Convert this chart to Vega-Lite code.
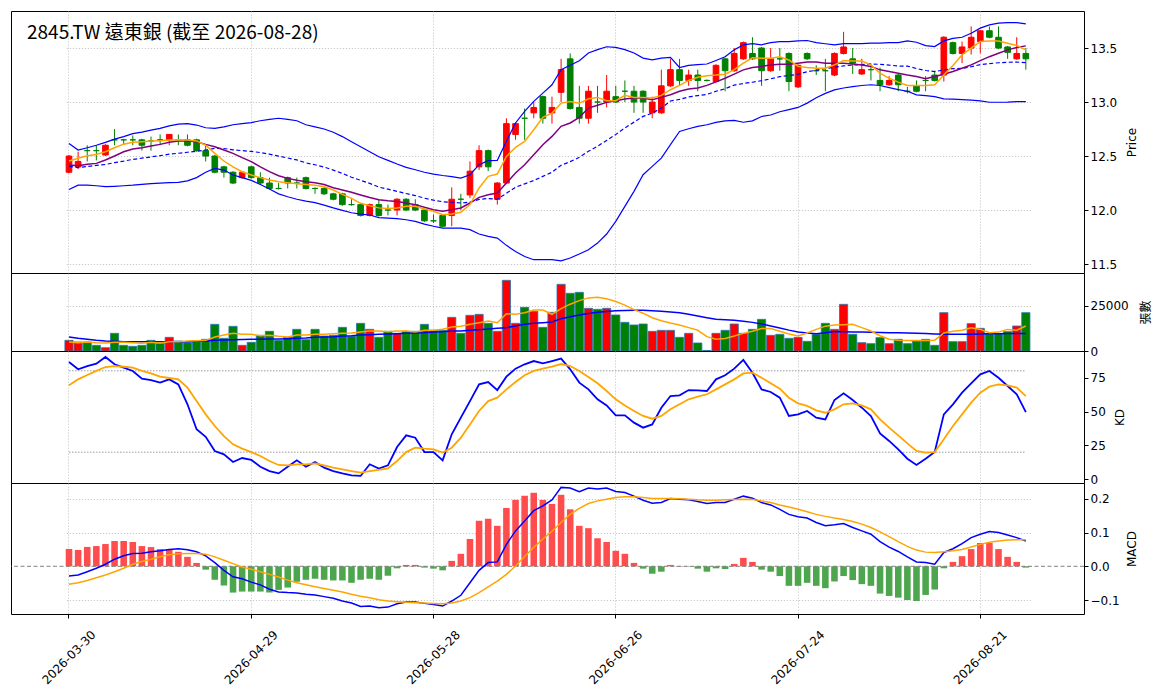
{
"$schema":"https://vega.github.io/schema/vega-lite/v6.json",
"background":"white",
"padding":{"left":10,"top":10,"right":5,"bottom":5},
"bounds":"flush",
"spacing":0,
"config":{
"view":{"stroke":"black","strokeWidth":1},
"axis":{"labelFont":"DejaVu Sans","titleFont":"DejaVu Sans, Noto Sans CJK TC","labelFontSize":12,"titleFontSize":12,"titleFontWeight":"normal","labelColor":"black","titleColor":"black","tickColor":"black","domain":false,"gridColor":"#bbbbbb","gridDash":[1.2,1.8],"gridWidth":0.8,"tickSize":4},
"line":{"clip":true},"bar":{"clip":true},"rule":{"clip":true}
},
"data":{"values":[
{"d":"2026-03-30","o":12.35,"h":12.51,"l":12.34,"c":12.50,"v":5926,"m5":12.454,"m10":12.417,"bu":12.617,"bm":12.404,"bl":12.19,"v5":5000,"v20":7778,"k":86.5,"dd":69.3,"dif":-0.029,"sig":-0.053,"hist":0.0515},
{"d":"2026-03-31","o":12.40,"h":12.54,"l":12.38,"c":12.45,"v":5000,"m5":12.48,"m10":12.41,"bu":12.556,"bm":12.393,"bl":12.23,"v5":4630,"v20":7037,"k":81.1,"dd":73.7,"dif":-0.026,"sig":-0.049,"hist":0.0485},
{"d":"2026-04-01","o":12.55,"h":12.60,"l":12.45,"c":12.55,"v":5000,"m5":12.503,"m10":12.423,"bu":12.577,"bm":12.404,"bl":12.23,"v5":5000,"v20":6482,"k":83.5,"dd":76.9,"dif":-0.016,"sig":-0.042,"hist":0.0574},
{"d":"2026-04-02","o":12.55,"h":12.60,"l":12.46,"c":12.55,"v":3148,"m5":12.515,"m10":12.432,"bu":12.60,"bm":12.413,"bl":12.225,"v5":4630,"v20":5926,"k":85.3,"dd":79.9,"dif":-0.006,"sig":-0.034,"hist":0.060},
{"d":"2026-04-07","o":12.51,"h":12.61,"l":12.50,"c":12.60,"v":1852,"m5":12.54,"m10":12.463,"bu":12.627,"bm":12.422,"bl":12.216,"v5":4445,"v20":5556,"k":90.2,"dd":82.8,"dif":0.006,"sig":-0.026,"hist":0.066},
{"d":"2026-04-08","o":12.65,"h":12.75,"l":12.60,"c":12.65,"v":9815,"m5":12.577,"m10":12.50,"bu":12.657,"bm":12.439,"bl":12.22,"v5":4815,"v20":5371,"k":84.8,"dd":83.5,"dif":0.021,"sig":-0.016,"hist":0.075},
{"d":"2026-04-09","o":12.65,"h":12.66,"l":12.61,"c":12.65,"v":3148,"m5":12.61,"m10":12.54,"bu":12.68,"bm":12.453,"bl":12.225,"v5":4815,"v20":5186,"k":82.3,"dd":83.0,"dif":0.031,"sig":-0.006,"hist":0.075},
{"d":"2026-04-10","o":12.65,"h":12.69,"l":12.60,"c":12.65,"v":2593,"m5":12.627,"m10":12.565,"bu":12.707,"bm":12.469,"bl":12.23,"v5":4630,"v20":5186,"k":79.9,"dd":82.3,"dif":0.038,"sig":0.006,"hist":0.072},
{"d":"2026-04-13","o":12.65,"h":12.66,"l":12.55,"c":12.60,"v":3148,"m5":12.633,"m10":12.577,"bu":12.722,"bm":12.48,"bl":12.237,"v5":4260,"v20":5186,"k":74.2,"dd":79.9,"dif":0.039,"sig":0.014,"hist":0.060},
{"d":"2026-04-14","o":12.64,"h":12.68,"l":12.55,"c":12.64,"v":5926,"m5":12.64,"m10":12.593,"bu":12.74,"bm":12.492,"bl":12.244,"v5":4815,"v20":5186,"k":73.2,"dd":78.1,"dif":0.043,"sig":0.021,"hist":0.057},
{"d":"2026-04-15","o":12.65,"h":12.70,"l":12.60,"c":12.65,"v":4259,"m5":12.642,"m10":12.608,"bu":12.756,"bm":12.503,"bl":12.25,"v5":4445,"v20":5186,"k":71.3,"dd":75.7,"dif":0.046,"sig":0.028,"hist":0.051},
{"d":"2026-04-16","o":12.65,"h":12.70,"l":12.60,"c":12.70,"v":7593,"m5":12.648,"m10":12.627,"bu":12.78,"bm":12.517,"bl":12.253,"v5":5186,"v20":5186,"k":73.7,"dd":74.7,"dif":0.050,"sig":0.034,"hist":0.050},
{"d":"2026-04-17","o":12.65,"h":12.70,"l":12.60,"c":12.65,"v":5556,"m5":12.651,"m10":12.64,"bu":12.796,"bm":12.526,"bl":12.256,"v5":5186,"v20":5186,"k":70.0,"dd":73.7,"dif":0.052,"sig":0.037,"hist":0.043},
{"d":"2026-04-20","o":12.65,"h":12.70,"l":12.59,"c":12.60,"v":4630,"m5":12.648,"m10":12.64,"bu":12.80,"bm":12.535,"bl":12.27,"v5":5556,"v20":5186,"k":55.3,"dd":67.6,"dif":0.049,"sig":0.038,"hist":0.028},
{"d":"2026-04-21","o":12.65,"h":12.66,"l":12.54,"c":12.55,"v":5556,"m5":12.64,"m10":12.633,"bu":12.787,"bm":12.544,"bl":12.30,"v5":5741,"v20":5371,"k":36.9,"dd":57.7,"dif":0.043,"sig":0.038,"hist":0.010},
{"d":"2026-04-22","o":12.55,"h":12.60,"l":12.45,"c":12.50,"v":6482,"m5":12.60,"m10":12.608,"bu":12.762,"bm":12.556,"bl":12.35,"v5":5926,"v20":5556,"k":31.4,"dd":47.9,"dif":0.031,"sig":0.036,"hist":-0.010},
{"d":"2026-04-23","o":12.50,"h":12.51,"l":12.34,"c":12.35,"v":14816,"m5":12.525,"m10":12.586,"bu":12.756,"bm":12.571,"bl":12.386,"v5":7778,"v20":5926,"k":20.9,"dd":39.3,"dif":0.011,"sig":0.028,"hist":-0.040},
{"d":"2026-04-24","o":12.40,"h":12.41,"l":12.30,"c":12.35,"v":7037,"m5":12.454,"m10":12.556,"bu":12.77,"bm":12.57,"bl":12.37,"v5":8890,"v20":6111,"k":18.4,"dd":31.9,"dif":-0.012,"sig":0.018,"hist":-0.057},
{"d":"2026-04-27","o":12.35,"h":12.36,"l":12.24,"c":12.25,"v":13704,"m5":12.40,"m10":12.525,"bu":12.79,"bm":12.557,"bl":12.324,"v5":9815,"v20":6296,"k":12.8,"dd":25.8,"dif":-0.031,"sig":0.008,"hist":-0.078},
{"d":"2026-04-28","o":12.30,"h":12.36,"l":12.29,"c":12.35,"v":3148,"m5":12.355,"m10":12.485,"bu":12.80,"bm":12.55,"bl":12.30,"v5":9260,"v20":6390,"k":15.7,"dd":22.6,"dif":-0.037,"sig":-0.002,"hist":-0.075},
{"d":"2026-04-29","o":12.40,"h":12.41,"l":12.29,"c":12.30,"v":4815,"m5":12.324,"m10":12.448,"bu":12.81,"bm":12.543,"bl":12.275,"v5":9260,"v20":6482,"k":14.3,"dd":20.1,"dif":-0.047,"sig":-0.009,"hist":-0.075},
{"d":"2026-04-30","o":12.30,"h":12.35,"l":12.24,"c":12.25,"v":8704,"m5":12.30,"m10":12.40,"bu":12.827,"bm":12.532,"bl":12.237,"v5":8519,"v20":6482,"k":9.3,"dd":17.2,"dif":-0.055,"sig":-0.016,"hist":-0.075},
{"d":"2026-05-04","o":12.25,"h":12.30,"l":12.19,"c":12.20,"v":10926,"m5":12.278,"m10":12.355,"bu":12.84,"bm":12.517,"bl":12.194,"v5":8704,"v20":6667,"k":6.1,"dd":13.5,"dif":-0.068,"sig":-0.024,"hist":-0.078},
{"d":"2026-05-05","o":12.20,"h":12.25,"l":12.19,"c":12.20,"v":5926,"m5":12.262,"m10":12.318,"bu":12.85,"bm":12.50,"bl":12.15,"v5":8149,"v20":6667,"k":4.4,"dd":10.6,"dif":-0.076,"sig":-0.032,"hist":-0.070},
{"d":"2026-05-06","o":12.30,"h":12.31,"l":12.20,"c":12.25,"v":7593,"m5":12.253,"m10":12.293,"bu":12.84,"bm":12.482,"bl":12.123,"v5":7778,"v20":6852,"k":9.3,"dd":10.3,"dif":-0.078,"sig":-0.041,"hist":-0.063},
{"d":"2026-05-07","o":12.25,"h":12.30,"l":12.20,"c":12.25,"v":12037,"m5":12.244,"m10":12.275,"bu":12.827,"bm":12.464,"bl":12.10,"v5":8890,"v20":7037,"k":14.0,"dd":11.1,"dif":-0.079,"sig":-0.049,"hist":-0.046},
{"d":"2026-05-08","o":12.30,"h":12.31,"l":12.19,"c":12.20,"v":6296,"m5":12.237,"m10":12.262,"bu":12.79,"bm":12.437,"bl":12.083,"v5":8890,"v20":7223,"k":9.3,"dd":11.1,"dif":-0.083,"sig":-0.055,"hist":-0.040},
{"d":"2026-05-11","o":12.20,"h":12.21,"l":12.15,"c":12.20,"v":12037,"m5":12.23,"m10":12.253,"bu":12.77,"bm":12.419,"bl":12.068,"v5":9260,"v20":7593,"k":12.8,"dd":11.8,"dif":-0.085,"sig":-0.061,"hist":-0.037},
{"d":"2026-05-12","o":12.20,"h":12.21,"l":12.14,"c":12.15,"v":8333,"m5":12.216,"m10":12.237,"bu":12.75,"bm":12.398,"bl":12.046,"v5":9260,"v20":7778,"k":8.6,"dd":10.3,"dif":-0.090,"sig":-0.066,"hist":-0.040},
{"d":"2026-05-13","o":12.15,"h":12.16,"l":12.09,"c":12.10,"v":8704,"m5":12.185,"m10":12.207,"bu":12.72,"bm":12.37,"bl":12.02,"v5":9630,"v20":7963,"k":6.1,"dd":8.6,"dif":-0.095,"sig":-0.071,"hist":-0.042},
{"d":"2026-05-14","o":12.15,"h":12.16,"l":12.04,"c":12.05,"v":13148,"m5":12.145,"m10":12.185,"bu":12.68,"bm":12.339,"bl":11.997,"v5":9815,"v20":8334,"k":4.4,"dd":7.4,"dif":-0.103,"sig":-0.076,"hist":-0.042},
{"d":"2026-05-15","o":12.05,"h":12.10,"l":12.04,"c":12.05,"v":8148,"m5":12.108,"m10":12.164,"bu":12.633,"bm":12.304,"bl":11.975,"v5":10000,"v20":8519,"k":2.9,"dd":6.1,"dif":-0.109,"sig":-0.083,"hist":-0.049},
{"d":"2026-05-18","o":12.05,"h":12.06,"l":11.94,"c":11.95,"v":15371,"m5":12.062,"m10":12.14,"bu":12.586,"bm":12.275,"bl":11.963,"v5":10556,"v20":8890,"k":2.5,"dd":4.9,"dif":-0.119,"sig":-0.089,"hist":-0.040},
{"d":"2026-05-19","o":11.95,"h":12.06,"l":11.94,"c":12.05,"v":12037,"m5":12.04,"m10":12.117,"bu":12.54,"bm":12.247,"bl":11.954,"v5":11112,"v20":9075,"k":11.1,"dd":6.1,"dif":-0.118,"sig":-0.093,"hist":-0.037},
{"d":"2026-05-20","o":12.05,"h":12.10,"l":11.94,"c":11.95,"v":7593,"m5":12.02,"m10":12.096,"bu":12.494,"bm":12.212,"bl":11.93,"v5":11112,"v20":9260,"k":7.9,"dd":6.9,"dif":-0.123,"sig":-0.099,"hist":-0.040},
{"d":"2026-05-21","o":12.00,"h":12.05,"l":11.95,"c":12.00,"v":10926,"m5":12.015,"m10":12.085,"bu":12.46,"bm":12.193,"bl":11.925,"v5":10741,"v20":9445,"k":10.3,"dd":8.1,"dif":-0.121,"sig":-0.103,"hist":-0.028},
{"d":"2026-05-22","o":12.00,"h":12.11,"l":11.95,"c":12.10,"v":9815,"m5":12.019,"m10":12.08,"bu":12.426,"bm":12.173,"bl":11.92,"v5":11112,"v20":9630,"k":23.8,"dd":13.5,"dif":-0.111,"sig":-0.105,"hist":-0.006},
{"d":"2026-05-25","o":12.10,"h":12.11,"l":11.99,"c":12.00,"v":10926,"m5":12.034,"m10":12.065,"bu":12.395,"bm":12.153,"bl":11.91,"v5":11112,"v20":9815,"k":32.4,"dd":20.1,"dif":-0.106,"sig":-0.107,"hist":0.004},
{"d":"2026-05-26","o":12.05,"h":12.10,"l":11.99,"c":12.00,"v":10926,"m5":12.034,"m10":12.05,"bu":12.373,"bm":12.134,"bl":11.895,"v5":10556,"v20":10000,"k":30.7,"dd":23.3,"dif":-0.106,"sig":-0.108,"hist":0.004},
{"d":"2026-05-27","o":12.00,"h":12.01,"l":11.89,"c":11.90,"v":14816,"m5":12.01,"m10":12.025,"bu":12.35,"bm":12.11,"bl":11.87,"v5":11482,"v20":10186,"k":20.1,"dd":22.6,"dif":-0.110,"sig":-0.109,"hist":-0.004},
{"d":"2026-05-28","o":11.90,"h":11.96,"l":11.88,"c":11.90,"v":11482,"m5":11.988,"m10":12.003,"bu":12.333,"bm":12.092,"bl":11.85,"v5":11482,"v20":10556,"k":20.1,"dd":22.1,"dif":-0.113,"sig":-0.110,"hist":-0.007},
{"d":"2026-05-29","o":11.95,"h":11.96,"l":11.84,"c":11.85,"v":11482,"m5":11.957,"m10":11.988,"bu":12.32,"bm":12.077,"bl":11.833,"v5":12037,"v20":10741,"k":14.0,"dd":19.7,"dif":-0.118,"sig":-0.111,"hist":-0.012},
{"d":"2026-06-01","o":11.95,"h":12.21,"l":11.85,"c":12.10,"v":18705,"m5":11.963,"m10":12.003,"bu":12.31,"bm":12.072,"bl":11.833,"v5":13334,"v20":11112,"k":33.2,"dd":23.3,"dif":-0.103,"sig":-0.109,"hist":0.016},
{"d":"2026-06-02","o":12.10,"h":12.15,"l":12.00,"c":12.10,"v":9815,"m5":11.98,"m10":12.019,"bu":12.296,"bm":12.065,"bl":11.833,"v5":13704,"v20":11112,"k":45.5,"dd":30.7,"dif":-0.086,"sig":-0.103,"hist":0.037},
{"d":"2026-06-03","o":12.14,"h":12.45,"l":12.11,"c":12.36,"v":19816,"m5":12.05,"m10":12.065,"bu":12.327,"bm":12.073,"bl":11.818,"v5":14816,"v20":11482,"k":57.7,"dd":40.5,"dif":-0.049,"sig":-0.093,"hist":0.081},
{"d":"2026-06-04","o":12.40,"h":12.60,"l":12.37,"c":12.55,"v":20372,"m5":12.204,"m10":12.117,"bu":12.42,"bm":12.099,"bl":11.778,"v5":15742,"v20":11853,"k":70.0,"dd":50.4,"dif":-0.012,"sig":-0.078,"hist":0.135},
{"d":"2026-06-05","o":12.55,"h":12.56,"l":12.36,"c":12.40,"v":15371,"m5":12.312,"m10":12.142,"bu":12.457,"bm":12.107,"bl":11.756,"v5":16668,"v20":12223,"k":71.7,"dd":57.7,"dif":0.011,"sig":-0.061,"hist":0.141},
{"d":"2026-06-08","o":12.10,"h":12.26,"l":12.05,"c":12.25,"v":10926,"m5":12.333,"m10":12.157,"bu":12.46,"bm":12.10,"bl":11.74,"v5":15742,"v20":12594,"k":65.8,"dd":60.2,"dif":0.013,"sig":-0.044,"hist":0.120},
{"d":"2026-06-09","o":12.25,"h":12.85,"l":12.24,"c":12.80,"v":39262,"m5":12.497,"m10":12.25,"bu":12.636,"bm":12.155,"bl":11.673,"v5":20742,"v20":12964,"k":75.7,"dd":66.3,"dif":0.065,"sig":-0.024,"hist":0.173},
{"d":"2026-06-10","o":12.70,"h":12.81,"l":12.65,"c":12.80,"v":15371,"m5":12.58,"m10":12.343,"bu":12.806,"bm":12.212,"bl":11.617,"v5":20372,"v20":13890,"k":81.6,"dd":71.7,"dif":0.105,"sig":0.001,"hist":0.197},
{"d":"2026-06-11","o":12.85,"h":12.94,"l":12.65,"c":12.85,"v":24261,"m5":12.636,"m10":12.42,"bu":12.914,"bm":12.242,"bl":11.57,"v5":21298,"v20":14816,"k":84.8,"dd":76.7,"dif":0.134,"sig":0.029,"hist":0.209},
{"d":"2026-06-12","o":12.90,"h":13.00,"l":12.85,"c":12.95,"v":22039,"m5":12.744,"m10":12.512,"bu":13.006,"bm":12.273,"bl":11.54,"v5":22780,"v20":15371,"k":87.2,"dd":79.9,"dif":0.165,"sig":0.056,"hist":0.218},
{"d":"2026-06-15","o":13.05,"h":13.06,"l":12.80,"c":12.85,"v":13148,"m5":12.858,"m10":12.605,"bu":13.083,"bm":12.312,"bl":11.54,"v5":22780,"v20":15742,"k":85.5,"dd":81.6,"dif":0.179,"sig":0.081,"hist":0.197},
{"d":"2026-06-16","o":12.90,"h":13.05,"l":12.80,"c":12.95,"v":21483,"m5":12.898,"m10":12.682,"bu":13.16,"bm":12.35,"bl":11.54,"v5":20400,"v20":16112,"k":87.2,"dd":83.0,"dif":0.197,"sig":0.104,"hist":0.185},
{"d":"2026-06-17","o":13.09,"h":13.40,"l":13.00,"c":13.30,"v":37040,"m5":12.99,"m10":12.775,"bu":13.30,"bm":12.415,"bl":11.53,"v5":23500,"v20":17964,"k":89.0,"dd":85.0,"dif":0.234,"sig":0.130,"hist":0.212},
{"d":"2026-06-18","o":13.40,"h":13.45,"l":12.93,"c":12.94,"v":32040,"m5":13.006,"m10":12.806,"bu":13.34,"bm":12.448,"bl":11.556,"v5":26000,"v20":19000,"k":81.1,"dd":83.5,"dif":0.232,"sig":0.154,"hist":0.169},
{"d":"2026-06-22","o":12.95,"h":13.15,"l":12.80,"c":12.85,"v":32595,"m5":12.99,"m10":12.858,"bu":13.383,"bm":12.488,"bl":11.593,"v5":28000,"v20":20002,"k":71.3,"dd":79.9,"dif":0.221,"sig":0.172,"hist":0.120},
{"d":"2026-06-23","o":12.85,"h":13.15,"l":12.80,"c":13.10,"v":23706,"m5":13.03,"m10":12.944,"bu":13.454,"bm":12.544,"bl":11.633,"v5":29500,"v20":20800,"k":66.3,"dd":75.4,"dif":0.232,"sig":0.186,"hist":0.113},
{"d":"2026-06-24","o":13.00,"h":13.15,"l":12.90,"c":13.00,"v":23150,"m5":13.043,"m10":12.97,"bu":13.485,"bm":12.59,"bl":11.694,"v5":29800,"v20":21500,"k":59.0,"dd":70.8,"dif":0.229,"sig":0.194,"hist":0.083},
{"d":"2026-06-25","o":13.00,"h":13.25,"l":12.95,"c":13.10,"v":23706,"m5":13.012,"m10":12.997,"bu":13.512,"bm":12.645,"bl":11.778,"v5":29000,"v20":22000,"k":54.5,"dd":65.1,"dif":0.232,"sig":0.199,"hist":0.072},
{"d":"2026-06-26","o":13.05,"h":13.15,"l":12.99,"c":13.00,"v":20002,"m5":13.012,"m10":13.012,"bu":13.506,"bm":12.70,"bl":11.895,"v5":27500,"v20":22400,"k":47.2,"dd":59.0,"dif":0.222,"sig":0.204,"hist":0.046},
{"d":"2026-06-29","o":13.10,"h":13.20,"l":13.00,"c":13.10,"v":15927,"m5":13.062,"m10":13.028,"bu":13.485,"bm":12.76,"bl":12.034,"v5":25500,"v20":22500,"k":47.2,"dd":54.5,"dif":0.219,"sig":0.206,"hist":0.037},
{"d":"2026-06-30","o":13.10,"h":13.15,"l":12.90,"c":13.00,"v":14446,"m5":13.043,"m10":13.037,"bu":13.454,"bm":12.814,"bl":12.173,"v5":23000,"v20":22600,"k":41.8,"dd":50.4,"dif":0.208,"sig":0.206,"hist":0.010},
{"d":"2026-07-01","o":13.10,"h":13.11,"l":12.90,"c":13.00,"v":15001,"m5":13.043,"m10":13.037,"bu":13.407,"bm":12.867,"bl":12.327,"v5":21000,"v20":22594,"k":38.1,"dd":46.7,"dif":0.196,"sig":0.204,"hist":-0.007},
{"d":"2026-07-02","o":12.90,"h":13.05,"l":12.85,"c":13.00,"v":10926,"m5":13.037,"m10":13.022,"bu":13.39,"bm":12.897,"bl":12.404,"v5":18500,"v20":22400,"k":40.5,"dd":44.7,"dif":0.187,"sig":0.201,"hist":-0.022},
{"d":"2026-07-03","o":12.90,"h":13.30,"l":12.89,"c":13.15,"v":11482,"m5":13.062,"m10":13.043,"bu":13.407,"bm":12.944,"bl":12.48,"v5":16800,"v20":22100,"k":52.8,"dd":46.7,"dif":0.189,"sig":0.201,"hist":-0.016},
{"d":"2026-07-06","o":13.15,"h":13.40,"l":13.14,"c":13.30,"v":11482,"m5":13.114,"m10":13.068,"bu":13.414,"bm":13.01,"bl":12.605,"v5":15500,"v20":21700,"k":61.4,"dd":51.6,"dif":0.201,"sig":0.201,"hist":0.004},
{"d":"2026-07-07","o":13.30,"h":13.40,"l":13.15,"c":13.20,"v":7593,"m5":13.154,"m10":13.10,"bu":13.32,"bm":13.024,"bl":12.728,"v5":14400,"v20":21298,"k":61.9,"dd":55.3,"dif":0.199,"sig":0.200,"hist":0.001},
{"d":"2026-07-08","o":13.20,"h":13.30,"l":13.15,"c":13.25,"v":9815,"m5":13.20,"m10":13.12,"bu":13.34,"bm":13.047,"bl":12.753,"v5":13000,"v20":20400,"k":65.8,"dd":59.0,"dif":0.197,"sig":0.199,"hist":-0.001},
{"d":"2026-07-09","o":13.25,"h":13.30,"l":13.10,"c":13.20,"v":4445,"m5":13.23,"m10":13.13,"bu":13.346,"bm":13.06,"bl":12.775,"v5":11500,"v20":19446,"k":65.6,"dd":60.9,"dif":0.192,"sig":0.197,"hist":-0.007},
{"d":"2026-07-10","o":13.20,"h":13.21,"l":13.19,"c":13.20,"v":300,"m5":13.244,"m10":13.154,"bu":13.352,"bm":13.071,"bl":12.79,"v5":8000,"v20":18500,"k":65.1,"dd":62.7,"dif":0.186,"sig":0.196,"hist":-0.016},
{"d":"2026-07-13","o":13.19,"h":13.35,"l":13.18,"c":13.34,"v":9815,"m5":13.25,"m10":13.187,"bu":13.385,"bm":13.10,"bl":12.812,"v5":6500,"v20":17594,"k":73.7,"dd":66.3,"dif":0.189,"sig":0.196,"hist":-0.006},
{"d":"2026-07-14","o":13.40,"h":13.41,"l":13.10,"c":13.29,"v":11482,"m5":13.258,"m10":13.22,"bu":13.42,"bm":13.123,"bl":12.826,"v5":7000,"v20":17300,"k":76.7,"dd":70.0,"dif":0.189,"sig":0.197,"hist":-0.008},
{"d":"2026-07-15","o":13.29,"h":13.50,"l":13.28,"c":13.45,"v":15001,"m5":13.30,"m10":13.258,"bu":13.483,"bm":13.157,"bl":12.83,"v5":8300,"v20":17038,"k":81.6,"dd":73.7,"dif":0.199,"sig":0.198,"hist":0.007},
{"d":"2026-07-16","o":13.40,"h":13.56,"l":13.39,"c":13.55,"v":9815,"m5":13.36,"m10":13.298,"bu":13.53,"bm":13.172,"bl":12.813,"v5":9800,"v20":16500,"k":88.0,"dd":78.1,"dif":0.208,"sig":0.199,"hist":0.025},
{"d":"2026-07-17","o":13.45,"h":13.60,"l":13.39,"c":13.40,"v":12037,"m5":13.41,"m10":13.32,"bu":13.54,"bm":13.183,"bl":12.826,"v5":11000,"v20":15900,"k":78.6,"dd":78.6,"dif":0.202,"sig":0.198,"hist":0.013},
{"d":"2026-07-20","o":13.50,"h":13.51,"l":13.15,"c":13.29,"v":17594,"m5":13.406,"m10":13.33,"bu":13.53,"bm":13.198,"bl":12.866,"v5":12500,"v20":15000,"k":66.3,"dd":74.9,"dif":0.189,"sig":0.194,"hist":-0.010},
{"d":"2026-07-21","o":13.29,"h":13.50,"l":13.28,"c":13.40,"v":8704,"m5":13.406,"m10":13.344,"bu":13.55,"bm":13.215,"bl":12.88,"v5":12500,"v20":13900,"k":64.4,"dd":70.8,"dif":0.182,"sig":0.189,"hist":-0.016},
{"d":"2026-07-22","o":13.40,"h":13.50,"l":13.29,"c":13.40,"v":9260,"m5":13.42,"m10":13.35,"bu":13.56,"bm":13.235,"bl":12.91,"v5":11000,"v20":12800,"k":60.2,"dd":66.8,"dif":0.169,"sig":0.182,"hist":-0.029},
{"d":"2026-07-23","o":13.45,"h":13.46,"l":13.10,"c":13.19,"v":7037,"m5":13.39,"m10":13.35,"bu":13.56,"bm":13.245,"bl":12.93,"v5":9500,"v20":11600,"k":46.7,"dd":60.2,"dif":0.154,"sig":0.176,"hist":-0.058},
{"d":"2026-07-24","o":13.14,"h":13.35,"l":13.13,"c":13.34,"v":7593,"m5":13.33,"m10":13.36,"bu":13.566,"bm":13.258,"bl":12.95,"v5":8300,"v20":10556,"k":47.9,"dd":56.0,"dif":0.147,"sig":0.169,"hist":-0.058},
{"d":"2026-07-27","o":13.45,"h":13.46,"l":13.39,"c":13.40,"v":5371,"m5":13.32,"m10":13.37,"bu":13.57,"bm":13.28,"bl":12.99,"v5":10000,"v20":10000,"k":50.4,"dd":54.1,"dif":0.143,"sig":0.162,"hist":-0.049},
{"d":"2026-07-28","o":13.29,"h":13.34,"l":13.25,"c":13.29,"v":9260,"m5":13.313,"m10":13.37,"bu":13.55,"bm":13.295,"bl":13.04,"v5":12000,"v20":9630,"k":45.5,"dd":50.9,"dif":0.130,"sig":0.154,"hist":-0.058},
{"d":"2026-07-29","o":13.29,"h":13.40,"l":13.10,"c":13.29,"v":15371,"m5":13.313,"m10":13.36,"bu":13.54,"bm":13.31,"bl":13.08,"v5":13800,"v20":10200,"k":44.2,"dd":49.1,"dif":0.120,"sig":0.148,"hist":-0.065},
{"d":"2026-07-30","o":13.25,"h":13.46,"l":13.24,"c":13.45,"v":12037,"m5":13.344,"m10":13.36,"bu":13.53,"bm":13.322,"bl":13.113,"v5":14500,"v20":10800,"k":58.5,"dd":51.6,"dif":0.123,"sig":0.143,"hist":-0.045},
{"d":"2026-07-31","o":13.45,"h":13.65,"l":13.44,"c":13.51,"v":25928,"m5":13.384,"m10":13.36,"bu":13.54,"bm":13.335,"bl":13.13,"v5":14600,"v20":10742,"k":63.4,"dd":55.3,"dif":0.127,"sig":0.139,"hist":-0.029},
{"d":"2026-08-03","o":13.40,"h":13.50,"l":13.26,"c":13.36,"v":9260,"m5":13.38,"m10":13.353,"bu":13.54,"bm":13.342,"bl":13.143,"v5":14800,"v20":10600,"k":58.5,"dd":56.0,"dif":0.115,"sig":0.133,"hist":-0.041},
{"d":"2026-08-04","o":13.26,"h":13.40,"l":13.25,"c":13.30,"v":4630,"m5":13.38,"m10":13.344,"bu":13.54,"bm":13.347,"bl":13.153,"v5":13000,"v20":10500,"k":52.8,"dd":54.5,"dif":0.105,"sig":0.125,"hist":-0.053},
{"d":"2026-08-05","o":13.30,"h":13.35,"l":13.20,"c":13.30,"v":4074,"m5":13.344,"m10":13.33,"bu":13.545,"bm":13.353,"bl":13.16,"v5":11100,"v20":10400,"k":46.7,"dd":51.6,"dif":0.095,"sig":0.115,"hist":-0.058},
{"d":"2026-08-06","o":13.20,"h":13.32,"l":13.10,"c":13.16,"v":7408,"m5":13.267,"m10":13.298,"bu":13.545,"bm":13.349,"bl":13.153,"v5":8500,"v20":10300,"k":33.9,"dd":44.2,"dif":0.073,"sig":0.102,"hist":-0.081},
{"d":"2026-08-07","o":13.16,"h":13.24,"l":13.15,"c":13.20,"v":4074,"m5":13.22,"m10":13.283,"bu":13.55,"bm":13.342,"bl":13.134,"v5":6500,"v20":10200,"k":28.3,"dd":38.1,"dif":0.057,"sig":0.088,"hist":-0.088},
{"d":"2026-08-10","o":13.25,"h":13.26,"l":13.10,"c":13.16,"v":6482,"m5":13.184,"m10":13.267,"bu":13.55,"bm":13.333,"bl":13.115,"v5":6000,"v20":10100,"k":22.1,"dd":32.4,"dif":0.044,"sig":0.073,"hist":-0.093},
{"d":"2026-08-11","o":13.10,"h":13.14,"l":13.08,"c":13.10,"v":4074,"m5":13.153,"m10":13.25,"bu":13.566,"bm":13.333,"bl":13.10,"v5":5900,"v20":10000,"k":15.2,"dd":26.5,"dif":0.028,"sig":0.059,"hist":-0.100},
{"d":"2026-08-12","o":13.15,"h":13.20,"l":13.09,"c":13.10,"v":5556,"m5":13.153,"m10":13.236,"bu":13.554,"bm":13.31,"bl":13.066,"v5":5900,"v20":9900,"k":10.6,"dd":20.9,"dif":0.013,"sig":0.048,"hist":-0.103},
{"d":"2026-08-13","o":13.20,"h":13.24,"l":13.10,"c":13.20,"v":6482,"m5":13.153,"m10":13.215,"bu":13.523,"bm":13.292,"bl":13.06,"v5":5900,"v20":9700,"k":15.2,"dd":19.7,"dif":0.011,"sig":0.042,"hist":-0.085},
{"d":"2026-08-14","o":13.25,"h":13.29,"l":13.19,"c":13.20,"v":3148,"m5":13.16,"m10":13.236,"bu":13.514,"bm":13.282,"bl":13.05,"v5":6000,"v20":9500,"k":20.1,"dd":20.1,"dif":0.006,"sig":0.041,"hist":-0.069},
{"d":"2026-08-17","o":13.25,"h":13.61,"l":13.19,"c":13.60,"v":21298,"m5":13.25,"m10":13.258,"bu":13.566,"bm":13.298,"bl":13.03,"v5":10000,"v20":9300,"k":47.9,"dd":29.5,"dif":0.041,"sig":0.043,"hist":-0.006},
{"d":"2026-08-18","o":13.55,"h":13.56,"l":13.44,"c":13.45,"v":5186,"m5":13.338,"m10":13.283,"bu":13.59,"bm":13.309,"bl":13.027,"v5":11000,"v20":9300,"k":55.3,"dd":39.3,"dif":0.052,"sig":0.046,"hist":0.013},
{"d":"2026-08-19","o":13.45,"h":13.56,"l":13.36,"c":13.51,"v":5186,"m5":13.437,"m10":13.313,"bu":13.60,"bm":13.312,"bl":13.023,"v5":11500,"v20":9300,"k":63.9,"dd":47.9,"dif":0.067,"sig":0.050,"hist":0.030},
{"d":"2026-08-20","o":13.50,"h":13.70,"l":13.44,"c":13.60,"v":15186,"m5":13.50,"m10":13.344,"bu":13.637,"bm":13.327,"bl":13.017,"v5":12900,"v20":9300,"k":70.8,"dd":56.5,"dif":0.085,"sig":0.057,"hist":0.051},
{"d":"2026-08-21","o":13.56,"h":13.66,"l":13.45,"c":13.66,"v":12594,"m5":13.56,"m10":13.384,"bu":13.684,"bm":13.347,"bl":13.01,"v5":12000,"v20":9500,"k":77.4,"dd":63.9,"dif":0.095,"sig":0.065,"hist":0.069},
{"d":"2026-08-24","o":13.66,"h":13.70,"l":13.59,"c":13.60,"v":9630,"m5":13.566,"m10":13.42,"bu":13.714,"bm":13.356,"bl":12.998,"v5":10200,"v20":9600,"k":79.9,"dd":68.3,"dif":0.103,"sig":0.071,"hist":0.069},
{"d":"2026-08-25","o":13.60,"h":13.70,"l":13.49,"c":13.50,"v":9630,"m5":13.566,"m10":13.452,"bu":13.73,"bm":13.364,"bl":12.998,"v5":10500,"v20":9600,"k":74.9,"dd":70.0,"dif":0.100,"sig":0.075,"hist":0.051},
{"d":"2026-08-26","o":13.51,"h":13.52,"l":13.40,"c":13.46,"v":10742,"m5":13.545,"m10":13.483,"bu":13.736,"bm":13.368,"bl":13.0,"v5":12000,"v20":9700,"k":68.8,"dd":69.3,"dif":0.093,"sig":0.078,"hist":0.028},
{"d":"2026-08-27","o":13.40,"h":13.60,"l":13.39,"c":13.45,"v":13890,"m5":13.523,"m10":13.505,"bu":13.736,"bm":13.37,"bl":13.004,"v5":11500,"v20":9700,"k":62.7,"dd":67.6,"dif":0.085,"sig":0.079,"hist":0.013},
{"d":"2026-08-28","o":13.45,"h":13.50,"l":13.30,"c":13.40,"v":21298,"m5":13.483,"m10":13.52,"bu":13.724,"bm":13.364,"bl":13.004,"v5":13900,"v20":9700,"k":49.6,"dd":61.4,"dif":0.075,"sig":0.079,"hist":-0.004}
]},
"vconcat":[
{
"width":1073,"height":262,
"title":{"text":"2845.TW 遠東銀 (截至 2026-08-28)","anchor":"start","frame":"group","offset":-32,"dx":16,"font":"Noto Sans CJK TC","fontSize":19,"fontWeight":"normal","color":"black"},
"layer":[
{"mark":{"type":"rule","strokeWidth":1},
 "encoding":{
  "x":{"field":"d","type":"ordinal","scale":{"type":"band","paddingInner":0,"paddingOuter":0,"range":[53.44,1019.4]},"axis":{"values":["2026-03-30","2026-04-29","2026-05-28","2026-06-26","2026-07-24","2026-08-21"],"labels":false,"ticks":false,"title":null,"grid":true,"domain":false}},
  "y":{"field":"l","type":"quantitative","scale":{"domain":[11.417,13.843],"nice":false,"zero":false},"axis":{"orient":"right","values":[11.5,12,12.5,13,13.5],"format":".1f","titleAngle":270,"titleBaseline":"top","titlePadding":10},"title":"Price"},
  "y2":{"field":"h"},
  "color":{"condition":{"test":"datum.c > datum.o","value":"#ff0000"},"value":"#008000"}}},
{"mark":{"type":"bar","width":{"band":0.62},"strokeWidth":1},
 "encoding":{
  "x":{"field":"d","type":"ordinal"},
  "y":{"field":"o","type":"quantitative","title":"Price"},
  "y2":{"field":"c"},
  "color":{"condition":{"test":"datum.c > datum.o","value":"#ff0000"},"value":"#008000"},
  "stroke":{"condition":{"test":"datum.c > datum.o","value":"#ff0000"},"value":"#008000"}}},
{"mark":{"type":"line","color":"#0000ff","strokeWidth":1.2},"encoding":{"x":{"field":"d","type":"ordinal"},"y":{"field":"bu","type":"quantitative","title":"Price"}}},
{"mark":{"type":"line","color":"#0000ff","strokeWidth":1.2},"encoding":{"x":{"field":"d","type":"ordinal"},"y":{"field":"bl","type":"quantitative","title":"Price"}}},
{"mark":{"type":"line","color":"#0000ff","strokeWidth":1.2,"strokeDash":[4,2.5]},"encoding":{"x":{"field":"d","type":"ordinal"},"y":{"field":"bm","type":"quantitative","title":"Price"}}},
{"mark":{"type":"line","color":"#800080","strokeWidth":1.5},"encoding":{"x":{"field":"d","type":"ordinal"},"y":{"field":"m10","type":"quantitative","title":"Price"}}},
{"mark":{"type":"line","color":"#ffa500","strokeWidth":1.5},"encoding":{"x":{"field":"d","type":"ordinal"},"y":{"field":"m5","type":"quantitative","title":"Price"}}}
]
},
{
"width":1073,"height":78,
"layer":[
{"mark":{"type":"bar","width":{"band":0.9},"stroke":"#1f77b4","strokeWidth":0.8},
 "encoding":{
  "x":{"field":"d","type":"ordinal","scale":{"type":"band","paddingInner":0,"paddingOuter":0,"range":[53.44,1019.4]},"axis":{"values":["2026-03-30","2026-04-29","2026-05-28","2026-06-26","2026-07-24","2026-08-21"],"labels":false,"ticks":false,"title":null,"grid":true,"domain":false}},
  "y":{"field":"v","type":"quantitative","scale":{"domain":[0,43333],"nice":false},"axis":{"orient":"right","values":[0,25000],"format":"d","titleAngle":270,"titleBaseline":"top","titlePadding":12},"title":"張數"},
  "color":{"condition":{"test":"datum.c > datum.o","value":"#ff0000"},"value":"#008000"}}},
{"mark":{"type":"line","color":"#0000ff","strokeWidth":1.5},"encoding":{"x":{"field":"d","type":"ordinal"},"y":{"field":"v20","type":"quantitative","title":"張數"}}},
{"mark":{"type":"line","color":"#ffa500","strokeWidth":1.5},"encoding":{"x":{"field":"d","type":"ordinal"},"y":{"field":"v5","type":"quantitative","title":"張數"}}}
]
},
{
"width":1073,"height":132,
"layer":[
{"mark":{"type":"line","color":"#999999","strokeWidth":1,"strokeDash":[1.5,1.5]},
 "encoding":{
  "x":{"field":"d","type":"ordinal","scale":{"type":"band","paddingInner":0,"paddingOuter":0,"range":[53.44,1019.4]},"axis":{"values":["2026-03-30","2026-04-29","2026-05-28","2026-06-26","2026-07-24","2026-08-21"],"labels":false,"ticks":false,"title":null,"grid":true,"domain":false}},
  "y":{"datum":80,"type":"quantitative","scale":{"domain":[-2.7,94.6],"nice":false,"zero":false},"axis":{"orient":"right","values":[0,25,50,75],"titleAngle":270,"titleBaseline":"top","titlePadding":9},"title":"KD"}}},
{"mark":{"type":"line","color":"#999999","strokeWidth":1,"strokeDash":[1.5,1.5]},"encoding":{"x":{"field":"d","type":"ordinal"},"y":{"datum":20,"type":"quantitative","title":"KD"}}},
{"mark":{"type":"line","color":"#0000ff","strokeWidth":1.8},"encoding":{"x":{"field":"d","type":"ordinal"},"y":{"field":"k","type":"quantitative","title":"KD"}}},
{"mark":{"type":"line","color":"#ffa500","strokeWidth":1.8},"encoding":{"x":{"field":"d","type":"ordinal"},"y":{"field":"dd","type":"quantitative","title":"KD"}}}
]
},
{
"width":1073,"height":131,
"layer":[
{"mark":{"type":"bar","width":{"band":0.72}},
 "encoding":{
  "x":{"field":"d","type":"ordinal","scale":{"type":"band","paddingInner":0,"paddingOuter":0,"range":[53.44,1019.4]},"axis":{"values":["2026-03-30","2026-04-29","2026-05-28","2026-06-26","2026-07-24","2026-08-21"],"labelAngle":-45,"labelAlign":"center","labelBaseline":"middle","labelPadding":39,"labelOverlap":false,"ticks":true,"tickSize":4,"title":null,"grid":true,"domain":false}},
  "y":{"field":"hist","type":"quantitative","scale":{"domain":[-0.1415,0.247],"nice":false,"zero":false},"axis":{"orient":"right","values":[-0.1,0,0.1,0.2],"format":".1f","titleAngle":270,"titleBaseline":"top","titlePadding":7},"title":"MACD"},
  "y2":{"datum":0},
  "color":{"condition":{"test":"datum.hist >= 0","value":"#ff4d4d"},"value":"#4da64d"}}},
{"data":{"values":[{"z":0}]},"mark":{"type":"rule","color":"#808080","strokeWidth":1,"strokeDash":[4,2.5]},"encoding":{"y":{"field":"z","type":"quantitative","title":"MACD"}}},
{"mark":{"type":"line","color":"#0000ff","strokeWidth":1.5},"encoding":{"x":{"field":"d","type":"ordinal"},"y":{"field":"dif","type":"quantitative","title":"MACD"}}},
{"mark":{"type":"line","color":"#ffa500","strokeWidth":1.5},"encoding":{"x":{"field":"d","type":"ordinal"},"y":{"field":"sig","type":"quantitative","title":"MACD"}}}
]
}
]
}
